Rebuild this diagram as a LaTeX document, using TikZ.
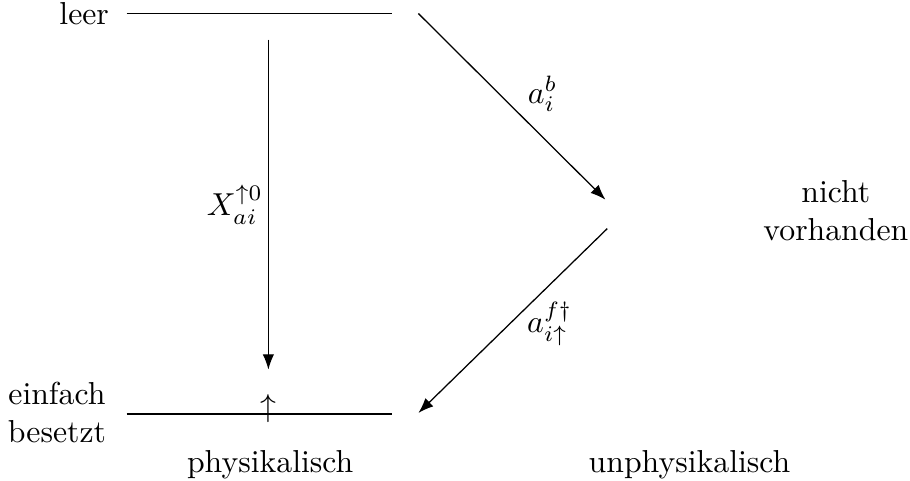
\documentclass[tikz,border=0pt]{standalone}
\usepackage{amsmath, amssymb}
\usepackage{tikz}
\usetikzlibrary{positioning, arrows.meta}

\begin{document}
\begin{tikzpicture}[>=Latex]
    \useasboundingbox (0,0) rectangle (10.07,5.32);
    % level ends
    \coordinate (leerL) at (1.40,5.17);
    \coordinate (leerR) at (4.34,5.17);
    \coordinate (einL) at (1.40,0.74);
    \coordinate (einR) at (4.34,0.74);
    \coordinate (vertTop) at (2.97,4.88);
    \coordinate (vertBot) at (2.97,1.23);
    \coordinate (diagTop) at (4.63,5.17);
    \coordinate (nvIn) at (6.70,3.11);
    \coordinate (nvOut) at (6.72,2.79);
    \coordinate (diagBot) at (4.63,0.75);
    % levels
    \draw (leerL) -- (leerR);
    \draw (einL) -- (einR);
    \node[left=2pt of leerL] (leer) {leer};
    \node[align=center] (einf) at (0.63,0.76) {einfach\\besetzt};
    \node[inner sep=0pt] (up) at (2.97,0.80) {$\uparrow$};
    \node[align=center] (nv) at (9.25,2.99) {nicht\\vorhanden};
    % transitions
    \draw[->] (vertTop) -- (vertBot) node[midway, left=1.5pt, inner sep=0pt] {$X_{ai}^{\uparrow 0}$};
    \draw[->] (diagTop) -- (nvIn) node[midway, right=1.5pt, yshift=4pt] {$a_i^b$};
    \draw[->] (nvOut) -- (diagBot) node[midway, right=1pt, yshift=-1pt] {$a_{i\uparrow}^{f\dagger}$};
    % regions
    \node (phys) at (2.99,0.18) {physikalisch};
    \node (unphys) at (7.63,0.18) {unphysikalisch};
\end{tikzpicture}
\end{document}
